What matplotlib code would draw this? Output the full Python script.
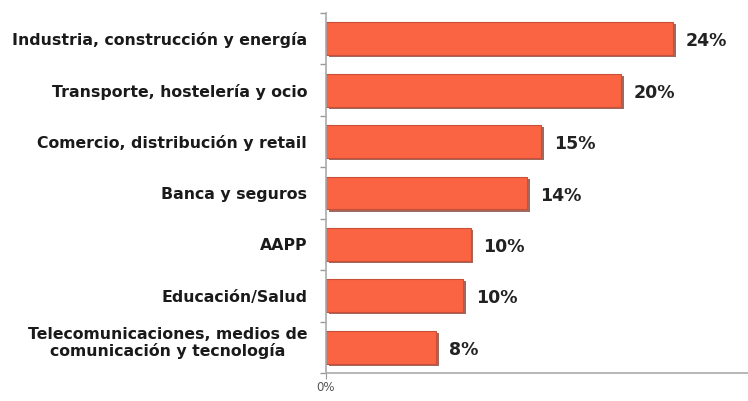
import numpy as np
import matplotlib
matplotlib.use("Agg")
import matplotlib.pyplot as plt
import matplotlib.patheffects as pe

# datos
sectores = ['Industria, construcción y energía',
            'Transporte, hostelería y ocio',
            'Comercio, distribución y retail',
            'Banca y seguros',
            'AAPP',
            'Educación/Salud',
            'Telecomunicaciones, medios de\ncomunicación y tecnología']
porcentajes = [24.0, 20.4, 14.9, 13.9, 10.0, 9.5, 7.6]
etiquetas = ['24%', '20%', '15%', '14%', '10%', '10%', '8%']

plt.rcParams['font.family'] = ['DejaVu Sans']

fig = plt.figure(figsize=(7.48, 4.01), dpi=100)
ax = fig.add_axes([0.4358, 0.0698, 0.5642, 0.8978])

y = np.arange(len(sectores))
bars = ax.barh(y, porcentajes, height=0.64, color='#FA6442',
               edgecolor='#C8503A', linewidth=0.8)
for b in bars:
    b.set_path_effects([pe.SimplePatchShadow(offset=(2, -1.5), shadow_rgbFace='#7a2a1a', alpha=0.7),
                        pe.Normal()])

for yi, v, lab in zip(y, porcentajes, etiquetas):
    ax.text(v + 0.9, yi + 0.05, lab, va='center', ha='left',
            fontsize=12.5, fontweight='bold', color='#222222')

ax.set_ylim(len(sectores) - 0.5, -0.5)
ax.set_xlim(0, 29.2)

# etiquetas de categoria
ax.set_yticks([])
for yi, s in zip(y, sectores):
    dy = -0.08 if '\n' in s else 0.03
    ax.text(-1.3, yi + dy, s, ha='right', va='center', multialignment='center',
            fontsize=11.3, fontweight='bold', color='#1a1a1a', linespacing=1.05)

# marcas en los limites de cada categoria
ax.set_yticks(np.arange(len(sectores) + 1) - 0.5, minor=True)
ax.tick_params(axis='y', which='minor', length=4, color='#999999', width=1)
ax.set_xticks([0])
ax.set_xticklabels(['0%'], fontsize=8.5, color='#555555')
ax.tick_params(axis='x', length=4, color='#999999', pad=2)

for side in ['top', 'right']:
    ax.spines[side].set_visible(False)
for side in ['left', 'bottom']:
    ax.spines[side].set_color('#aaaaaa')
    ax.spines[side].set_linewidth(1.2)

plt.savefig('out.png', dpi=100)
